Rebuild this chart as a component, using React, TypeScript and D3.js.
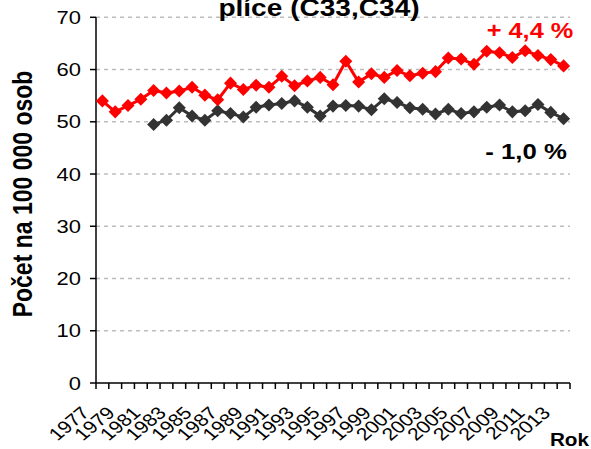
import React from 'react'
import * as d3 from 'd3'

// years on the x axis (1977..2013)
const years = [
  1977, 1978, 1979, 1980, 1981, 1982, 1983, 1984, 1985, 1986, 1987, 1988, 1989,
  1990, 1991, 1992, 1993, 1994, 1995, 1996, 1997, 1998, 1999, 2000, 2001, 2002,
  2003, 2004, 2005, 2006, 2007, 2008, 2009, 2010, 2011, 2012, 2013,
]

// red series, full period
const redValues = [
  54.0, 51.9, 53.1, 54.3, 56.0, 55.5, 55.9, 56.6, 55.1, 54.2, 57.4, 56.2, 57.0,
  56.6, 58.7, 56.9, 57.8, 58.5, 57.1, 61.6, 57.6, 59.2, 58.5, 59.8, 58.8, 59.3,
  59.6, 62.2, 62.0, 61.0, 63.5, 63.2, 62.3, 63.6, 62.7, 61.9, 60.7,
]

// dark series, starts 1981
const darkYears = years.slice(4)
const darkValues = [
  49.5, 50.3, 52.7, 51.1, 50.3, 52.1, 51.6, 50.9, 52.8, 53.2, 53.5, 54.0, 52.8,
  51.1, 53.0, 53.1, 53.0, 52.3, 54.4, 53.7, 52.7, 52.4, 51.5, 52.4, 51.6, 51.9,
  52.8, 53.2, 51.9, 52.1, 53.3, 51.8, 50.6,
]

const yTicks = [0, 10, 20, 30, 40, 50, 60, 70]
const xLabels = years.filter((y) => (y - 1977) % 2 === 0)

const FONT = '"Liberation Sans", Arial, sans-serif'
const RED = '#ff0000'
const DARK = '#333333'

export default function App() {
  const width = 591
  const height = 449
  const left = 96
  const right = 570
  const top = 17.3
  const bottom = 383

  const x = d3.scaleBand<number>().domain(years).range([left, right]).padding(0)
  const y = d3.scaleLinear().domain([0, 70]).range([bottom, top])
  const cx = (yr: number) => (x(yr) as number) + x.bandwidth() / 2

  const line = d3
    .line<[number, number]>()
    .x((d) => cx(d[0]))
    .y((d) => y(d[1]))

  const redPts: [number, number][] = years.map((yr, i) => [yr, redValues[i]])
  const darkPts: [number, number][] = darkYears.map((yr, i) => [yr, darkValues[i]])

  const diamond = d3.symbol().type(d3.symbolSquare).size(85)()

  // tick marks sit between categories
  const xTickPos = years.map((yr) => x(yr) as number).concat([right])

  return (
    <svg
      width={width}
      height={height}
      style={{ position: 'absolute', left: 0, top: 0, background: '#fff' }}
      fontFamily={FONT}
    >
      <rect width={width} height={height} fill="#fff" />

      {/* gridlines */}
      {yTicks.filter((t) => t > 0).map((t) => (
        <line
          key={'g' + t}
          x1={left}
          x2={right}
          y1={y(t)}
          y2={y(t)}
          stroke="#bdbdbd"
          strokeWidth={1.5}
          strokeDasharray="4,4"
        />
      ))}

      {/* title (first line is off the top of the picture) */}
      <text
        transform={`translate(319,16) scale(1.17,1)`}
        textAnchor="middle"
        fontWeight="bold"
        fontSize={24}
        fill="#000"
      >
        plíce (C33,C34)
      </text>

      {/* y axis */}
      <line x1={left} x2={left} y1={top} y2={bottom} stroke="#000" strokeWidth={1.5} />
      {yTicks.map((t) => (
        <g key={'y' + t}>
          <line x1={left - 6} x2={left} y1={y(t)} y2={y(t)} stroke="#000" strokeWidth={1.5} />
          <text
            transform={`translate(81,${y(t) + 6.5}) scale(1.22,1)`}
            textAnchor="end"
            fontSize={18}
            fill="#000"
          >
            {t}
          </text>
        </g>
      ))}

      {/* x axis */}
      <line x1={left} x2={right} y1={bottom} y2={bottom} stroke="#000" strokeWidth={1.5} />
      {xTickPos.map((p, i) => (
        <line key={'xt' + i} x1={p} x2={p} y1={bottom} y2={bottom + 6} stroke="#000" strokeWidth={1.5} />
      ))}
      {xLabels.map((yr) => (
        <text
          key={'xl' + yr}
          transform={`translate(${cx(yr) - 12},414) scale(1.2,1) rotate(-45)`}
          textAnchor="end"
          fontSize={17.5}
          fill="#000"
        >
          {yr}
        </text>
      ))}
      <text
        transform="translate(589,446) scale(1.15,1)"
        textAnchor="end"
        fontWeight="bold"
        fontSize={18}
        fill="#000"
      >
        Rok
      </text>

      {/* y axis title */}
      <text
        transform="translate(32,194) scale(1.2,1) rotate(-90)"
        textAnchor="middle"
        fontWeight="bold"
        fontSize={23}
        fill="#000"
      >
        Počet na 100 000 osob
      </text>

      {/* series */}
      <path d={line(darkPts) || ''} fill="none" stroke={DARK} strokeWidth={3} />
      {darkPts.map((d, i) => (
        <path
          key={'dm' + i}
          d={diamond || ''}
          transform={`translate(${cx(d[0])},${y(d[1])}) rotate(45)`}
          fill={DARK}
        />
      ))}
      <path d={line(redPts) || ''} fill="none" stroke={RED} strokeWidth={3} />
      {redPts.map((d, i) => (
        <path
          key={'rm' + i}
          d={diamond || ''}
          transform={`translate(${cx(d[0])},${y(d[1])}) rotate(45)`}
          fill={RED}
        />
      ))}

      {/* change annotations */}
      <text
        transform="translate(530,38) scale(1.15,1)"
        textAnchor="middle"
        fontWeight="bold"
        fontSize={22}
        fill={RED}
      >
        + 4,4 %
      </text>
      <text
        transform="translate(526,159) scale(1.12,1)"
        textAnchor="middle"
        fontWeight="bold"
        fontSize={23}
        fill="#000"
      >
        - 1,0 %
      </text>
    </svg>
  )
}
